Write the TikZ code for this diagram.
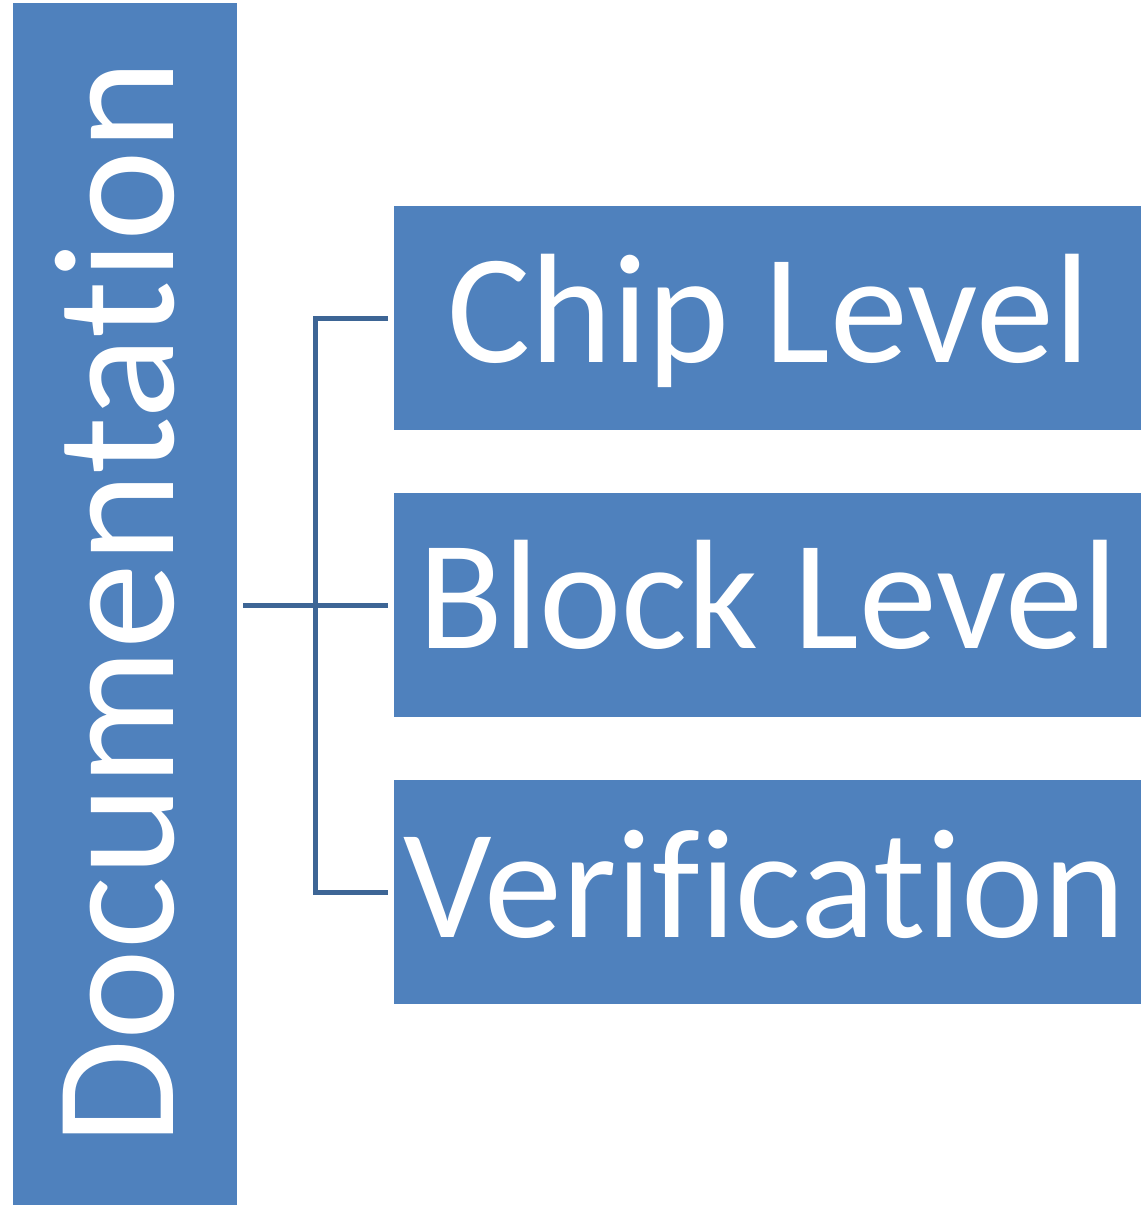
\documentclass[tikz,border=0pt]{standalone}
\usepackage{fontspec}
\setmainfont[Ligatures={CommonOff}]{Carlito}
\definecolor{boxblue}{HTML}{4F81BD}
\definecolor{lineblue}{HTML}{3D6595}
\begin{document}
\begin{tikzpicture}[x=1pt,y=1pt,
  box/.style={fill=boxblue, draw=none},
  lbl/.style={text=white, inner sep=0pt, font=\fontsize{156}{170}\selectfont},
  conn/.style={draw=lineblue, line width=5pt}]
\useasboundingbox (0,0) rectangle (1142,-1207);
% boxes
\path[box] (13,-3.5) rectangle (237,-1205);
\path[box] (394,-206) rectangle (1141,-430);
\path[box] (394,-493) rectangle (1141,-717);
\path[box] (394,-780) rectangle (1141,-1004);
% nodes
\node[lbl, font=\fontsize{172}{180}\selectfont, rotate=90, anchor=base] (doc) at (173,-603) {Documentation};
\node[lbl, anchor=base] (chip) at (768.5,-362) {Chip Level};
\node[lbl, anchor=base] (block) at (768.5,-648) {Block Level};
\node[lbl, anchor=base] (verif) at (765,-937) {Verification};
% connectors
\coordinate (root) at (243,-605);
\coordinate (j) at (315.5,-605);
\coordinate (c1) at (388,-318);
\coordinate (c2) at (388,-605);
\coordinate (c3) at (388,-892);
\draw[conn] (root) -- (c2);
\draw[conn] (c1) -| (j) |- (c3);
\end{tikzpicture}
\end{document}
